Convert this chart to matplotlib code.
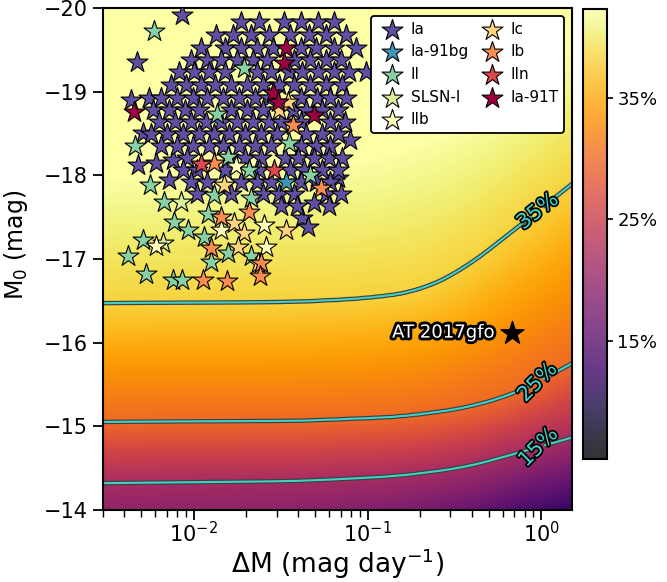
import numpy as np
import matplotlib
matplotlib.use("Agg")
import matplotlib.pyplot as plt
import matplotlib.patheffects as pe
from matplotlib.colors import Normalize, ListedColormap
from matplotlib.cm import ScalarMappable

# --- detection-efficiency field (log10 dM, M0 of each level) ---
c35_logdm = [-2.52, -1.40, -1.00, -0.71, -0.45, -0.13, 0.184]
c35_m0 = [-16.47, -16.485, -16.53, -16.61, -16.87, -17.39, -17.91]
c25_logdm = [-2.52, -1.385, -0.81, -0.425, -0.138, -0.046, 0.184]
c25_m0 = [-15.052, -15.064, -15.112, -15.219, -15.399, -15.494, -15.76]
c15_logdm = [-2.52, -1.385, -0.81, -0.425, -0.138, 0.184]
c15_m0 = [-14.323, -14.347, -14.407, -14.514, -14.681, -14.87]
c40_logdm = [-2.52, -1.0, -0.45, 0.184]
c40_m0 = [-18.0, -18.2, -18.6, -19.5]
bottom_logdm = [-2.52, -1.4, -0.8, -0.4, 0.184]
bottom_eff = [12.5, 12.0, 10.5, 8.0, 2.5]

# contour label placement (dM, M0) and angle as drawn
label_pos = [(0.96, -14.75), (0.95, -15.52), (0.96, -17.44)]
label_rot = [45, 45, 38]

# --- transients: log10(dM [mag/day]) and peak M0 ---
ia_logdm = [
    -2.069, -2.328, -2.362, -2.259, -2.293, -2.322, -2.218, -2.121, -2.144, -1.011,
    -1.098, -1.172, -1.374, -1.345, -1.310,
    -1.730, -1.626, -1.483, -1.385, -1.282, -1.190,
    -1.874, -1.776, -1.672, -1.569, -1.443, -1.339, -1.236, -1.126,
    -1.960, -1.822, -1.730, -1.638, -1.546, -1.385, -1.299, -1.195, -1.069,
    -2.017, -1.925, -1.845, -1.753, -1.661, -1.580, -1.420, -1.328, -1.241, -1.155,
    -2.086, -2.000, -1.914, -1.822, -1.638, -1.557, -1.454, -1.374, -1.282, -1.195, -1.109,
    -2.132, -2.046, -1.960, -1.879, -1.787, -1.695, -1.603, -1.511, -1.420, -1.328, -1.236, -1.144,
    -2.190, -2.098, -2.006, -1.925, -1.833, -1.741, -1.649, -1.569, -1.385, -1.293, -1.213, -1.126,
    -2.236, -2.144, -2.052, -1.971, -1.787, -1.695, -1.603, -1.431, -1.351, -1.259, -1.167,
    -2.201, -2.109, -2.017, -1.931, -1.845, -1.753, -1.661, -1.569, -1.500, -1.385, -1.213, -1.132,
    -2.247, -2.155, -2.063, -1.971, -1.885, -1.799, -1.707, -1.615, -1.523, -1.351, -1.259, -1.167,
    -2.190, -2.098, -2.006, -1.914, -1.833, -1.741, -1.649, -1.557, -1.385, -1.299, -1.213,
    -2.040, -1.799, -1.707, -1.615, -1.477, -1.397, -1.305, -1.224, -1.144,
    -2.063, -1.983, -1.822, -1.626, -1.443, -1.368, -1.259, -1.167,
    -2.017, -1.925, -1.730, -1.638, -1.557, -1.385, -1.299, -1.213,
    -1.983, -1.787, -1.603, -1.511, -1.420, -1.241, -1.155,
    -1.500, -1.408, -1.224,
]
ia_m0 = (
    [-19.916, -19.355, -18.900, -18.924, -18.506, -18.124, -18.147, -18.183, -17.944, -19.235,
     -18.422, -17.968, -17.490, -17.383, -17.669]
    + [-19.833] * 6 + [-19.677] * 8 + [-19.522] * 9 + [-19.378] * 10 + [-19.235] * 11
    + [-19.080] * 12 + [-18.924] * 12 + [-18.781] * 11 + [-18.637] * 12 + [-18.494] * 12
    + [-18.351] * 11 + [-18.207] * 9 + [-18.064] * 8 + [-17.920] * 8 + [-17.777] * 7
    + [-17.633] * 3
)

ia91bg_logdm = [-1.466]
ia91bg_m0 = [-17.920]

ii_logdm = [-2.230, -1.713, -1.868, -1.454, -2.339, -1.805, -1.684, -1.328, -2.253, -1.885,
            -2.172, -2.115, -2.034, -1.920, -1.672, -2.293, -2.379, -2.276, -2.121, -2.069,
            -1.943, -1.902, -1.805, -1.672]
ii_m0 = [-19.725, -19.283, -18.733, -18.386, -18.351, -18.219, -18.064, -18.004, -17.884, -17.765,
         -17.681, -17.442, -17.347, -17.538, -17.729, -17.227, -17.036, -16.821, -16.749, -16.749,
         -17.263, -16.964, -17.072, -17.036]

slsn_logdm = [-2.075, -2.178]
slsn_m0 = [-17.681, -17.191]

iib_logdm = [-1.759, -1.598, -1.845, -2.218, -1.586]
iib_m0 = [-18.112, -17.406, -17.347, -17.155, -17.143]

ic_logdm = [-1.460, -1.511, -1.828, -1.770, -1.713, -1.471, -1.747, -1.632]
ic_m0 = [-18.877, -18.781, -17.884, -17.430, -17.311, -17.347, -17.143, -16.952]

ib_logdm = [-1.431, -1.885, -1.270, -1.845, -1.684, -1.902, -1.948, -1.810, -1.615, -1.621]
ib_m0 = [-18.602, -18.147, -17.849, -17.502, -17.562, -17.132, -16.749, -16.737, -16.952, -16.797]

iin_logdm = [-1.960, -1.540]
iin_m0 = [-18.135, -18.064]

ia91t_logdm = [-2.345, -1.471, -1.483, -1.546, -1.517, -1.310]
ia91t_m0 = [-18.757, -19.522, -19.343, -18.984, -18.877, -18.721]

gfo_dm = 0.68
gfo_m0 = -16.12

classes = [
    ("Ia", ia_logdm, ia_m0),
    ("Ia-91bg", ia91bg_logdm, ia91bg_m0),
    ("II", ii_logdm, ii_m0),
    ("SLSN-I", slsn_logdm, slsn_m0),
    ("IIb", iib_logdm, iib_m0),
    ("Ic", ic_logdm, ic_m0),
    ("Ib", ib_logdm, ib_m0),
    ("IIn", iin_logdm, iin_m0),
    ("Ia-91T", ia91t_logdm, ia91t_m0),
]


def smooth_level(grid, kx, ky, width=0.3):
    """Evaluate knots on grid (linear extrapolation past the ends), then smooth."""
    step = grid[1] - grid[0]
    n = int(width / step) | 1
    pad = n
    ext = np.concatenate([grid[0] - step * np.arange(pad, 0, -1), grid,
                          grid[-1] + step * np.arange(1, pad + 1)])
    vals = np.interp(ext, kx, ky)
    lo = (ky[1] - ky[0]) / (kx[1] - kx[0])
    hi = (ky[-1] - ky[-2]) / (kx[-1] - kx[-2])
    vals = np.where(ext < kx[0], ky[0] + lo * (ext - kx[0]), vals)
    vals = np.where(ext > kx[-1], ky[-1] + hi * (ext - kx[-1]), vals)
    kernel = np.ones(n) / n
    return np.convolve(vals, kernel, mode="same")[pad:-pad]


# build the background field from the level knots
lx = np.linspace(np.log10(0.003), np.log10(1.5), 400)
my = np.linspace(-20, -14, 400)
m40 = smooth_level(lx, c40_logdm, c40_m0)
m35 = smooth_level(lx, c35_logdm, c35_m0)
m25 = smooth_level(lx, c25_logdm, c25_m0)
m15 = smooth_level(lx, c15_logdm, c15_m0)
vbot = smooth_level(lx, bottom_logdm, bottom_eff)
Z = np.empty((my.size, lx.size))
for j in range(lx.size):
    m_nodes = [-20.0, m40[j], m35[j], m25[j], m15[j], -14.0]
    v_nodes = [41.0, 40.0, 35.0, 25.0, 15.0, vbot[j]]
    Z[:, j] = np.interp(my, m_nodes, v_nodes)

fig = plt.figure(figsize=(6.67, 5.82), dpi=100)
ax = fig.add_axes([0.154, 0.1237, 0.7036, 0.8626])

ax.pcolormesh(10 ** lx, my, Z, cmap="inferno", norm=Normalize(-5, 40),
              shading="auto", rasterized=True, zorder=0)

turq = "#3fd0c6"
cs = ax.contour(10 ** lx, my, Z, levels=[15, 25, 35], colors=turq, linewidths=1.5, zorder=2)
cs.set_path_effects([pe.Stroke(linewidth=3.2, foreground="0.25"), pe.Normal()])
lbls = ax.clabel(cs, fmt=lambda v: f"{v:.0f}%", fontsize=15, colors=turq, inline=True,
                 inline_spacing=0, manual=label_pos)
for t, rot in zip(lbls, label_rot):
    t.set_rotation(rot)
    t.set_path_effects([pe.withStroke(linewidth=2.5, foreground="k")])

colors = plt.cm.Spectral_r(np.linspace(0, 1, len(classes)))
for (name, ldm, m0), col in zip(classes, colors):
    ax.scatter(10 ** np.array(ldm), m0, marker="*", s=250, color=col,
               edgecolors="k", linewidths=0.8, label=name, zorder=3)

ax.scatter(gfo_dm, gfo_m0, marker="*", s=300, color="k", zorder=5)
ax.annotate("AT 2017gfo", xy=(gfo_dm, gfo_m0), xytext=(-13, 0), textcoords="offset points",
            ha="right", va="center", fontsize=13, color="w", zorder=5,
            path_effects=[pe.withStroke(linewidth=4, foreground="k")])

ax.set_xscale("log")
ax.set_xlim(0.003, 1.5)
ax.set_ylim(-14, -20)
ax.set_yticks(np.arange(-20, -13, 1))
ax.set_xlabel(r"$\Delta$M (mag day$^{-1}$)", fontsize=19, labelpad=0)
ax.set_ylabel(r"M$_0$ (mag)", fontsize=17)
ax.yaxis.set_label_coords(-0.155, 0.528)
ax.tick_params(which="major", labelsize=15, length=7, width=1.3)
ax.tick_params(axis="x", which="major", pad=1)
ax.tick_params(which="minor", length=5, width=1.0)
for s in ax.spines.values():
    s.set_linewidth(1.5)

leg = ax.legend(loc="upper right", ncol=2, fontsize=11, framealpha=1, edgecolor="k",
                labelspacing=0.5, handletextpad=0.2, columnspacing=0.5, borderpad=0.4)
leg.get_frame().set_linewidth(1.3)

# colorbar (drawn semi-transparent in the original)
base = plt.get_cmap("inferno")(np.linspace(0, 1, 256))[:, :3]
cb_cmap = ListedColormap(base * 0.8 + 0.2)
cax = fig.add_axes([0.874, 0.2113, 0.036, 0.773])
sm = ScalarMappable(norm=Normalize(5.3, 42.3), cmap=cb_cmap)
cb = fig.colorbar(sm, cax=cax)
cb.set_ticks([15, 25, 35])
cb.set_ticklabels(["15%", "25%", "35%"])
cb.ax.tick_params(labelsize=13, length=4, width=1.2)
cb.outline.set_linewidth(1.5)

fig.savefig("out.png", dpi=100)
